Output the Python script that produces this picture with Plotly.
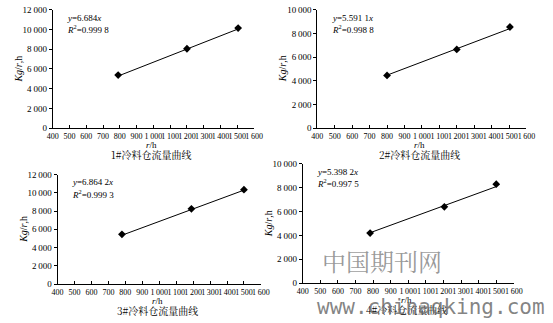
import plotly.graph_objects as go

W, H = 553, 323

# Measured flow rate (r/h) vs. output (Kg/r.h) for four cold-feed bins
bin1_x = [790, 1200, 1505]
bin1_y = [5380, 8050, 10150]
bin2_x = [800, 1200, 1505]
bin2_y = [4450, 6650, 8550]
bin3_x = [780, 1190, 1500]
bin3_y = [5450, 8250, 10350]
bin4_x = [783, 1205, 1500]
bin4_y = [4200, 6400, 8300]

slopes = [6.684, 5.5911, 6.8642, 5.3982]
eq_labels = ["<i>y</i>=6.684<i>x</i>", "<i>y</i>=5.591 1<i>x</i>",
             "<i>y</i>=6.864 2<i>x</i>", "<i>y</i>=5.398 2<i>x</i>"]
r2_labels = ["<i>R</i><sup>2</sup>=0.999 8", "<i>R</i><sup>2</sup>=0.998 8",
             "<i>R</i><sup>2</sup>=0.999 3", "<i>R</i><sup>2</sup>=0.997 5"]
captions = ["1#冷料仓流量曲线", "2#冷料仓流量曲线", "3#冷料仓流量曲线", "4#冷料仓流量曲线"]

x_ticks = list(range(400, 1700, 100))
y_ticks_12 = list(range(0, 14000, 2000))
y_ticks_10 = list(range(0, 12000, 2000))


def fmt(v):
    return f"{v:,}".replace(",", "\u2009")


x_ticktext = [fmt(v) for v in x_ticks]

# pixel boxes of each plot area: left, right, top, bottom
boxes = [(48, 255, 5, 127), (320, 535, 5, 127), (53, 262, 175, 288), (305, 522, 164, 287)]
y_tops = [12000, 10000, 12000, 10000]
series = [(bin1_x, bin1_y), (bin2_x, bin2_y), (bin3_x, bin3_y), (bin4_x, bin4_y)]

FONT = "Liberation Serif, Times New Roman, serif"
CJK = "Noto Serif CJK SC, Noto Sans CJK SC, serif"


def label(px, py, text, size, family=FONT, color="black", xanchor="center", angle=0):
    return dict(x=px / W, y=1 - py / H, xref="paper", yref="paper", text=text,
                showarrow=False, xanchor=xanchor, yanchor="middle", textangle=angle,
                font=dict(size=size, family=family, color=color))


fig = go.Figure()
annotations = []
for i, ((xs, ys), k, box, yt) in enumerate(zip(series, slopes, boxes, y_tops)):
    n = i + 1
    xa = "x" if n == 1 else f"x{n}"
    ya = "y" if n == 1 else f"y{n}"
    # fitted line through the origin
    fx = [xs[0], xs[-1]]
    fy = [k * v for v in fx]
    fig.add_trace(go.Scatter(x=fx, y=fy, mode="lines", line=dict(color="black", width=1),
                             xaxis=xa, yaxis=ya, showlegend=False, hoverinfo="skip"))
    fig.add_trace(go.Scatter(x=xs, y=ys, mode="markers",
                             marker=dict(symbol="diamond", color="black", size=6),
                             xaxis=xa, yaxis=ya, showlegend=False))
    l, r, t, b = box
    yticks = y_ticks_12 if yt == 12000 else y_ticks_10
    fig.layout[f"xaxis{'' if n == 1 else n}"] = dict(
        domain=[l / W, r / W], range=[400, 1600], anchor=ya,
        tickvals=x_ticks, ticktext=x_ticktext, ticks="inside", ticklen=3, tickangle=0,
        tickcolor="black", showline=True, linecolor="black", linewidth=1,
        showgrid=False, zeroline=False, tickfont=dict(size=8, family=FONT, color="black"),
    )
    fig.layout[f"yaxis{'' if n == 1 else n}"] = dict(
        domain=[1 - b / H, 1 - t / H], range=[0, yt], anchor=xa,
        tickvals=yticks, ticktext=[fmt(v) for v in yticks], ticks="outside", ticklen=3,
        tickcolor="black", showline=True, linecolor="black", linewidth=1,
        showgrid=False, zeroline=False, tickfont=dict(size=9, family=FONT, color="black"),
    )
    cx = (l + r) / 2
    # equation and R^2
    annotations.append(label(l + 13, t + 8, eq_labels[i], 9, xanchor="left"))
    annotations.append(label(l + 13, t + 20, r2_labels[i], 9, xanchor="left"))
    # axis titles
    annotations.append(label(cx - 2, b + 17, "<i>r</i>/h", 9))
    annotations.append(label(l - 35, (t + b) / 2, "<i>Kg</i>/<i>r</i>,h", 10, angle=-90))
    # caption
    annotations.append(label(cx - 2, b + 27, captions[i], 10, family=CJK))

# site watermark
annotations.append(label(386, 264, "中国期刊网", 24, family=CJK,
                         color="rgba(120,120,120,0.75)"))
annotations.append(label(437, 312, "www.chinaqking.com", 21,
                         family="DejaVu Sans Mono, monospace",
                         color="rgba(110,110,110,0.85)"))

fig.update_layout(width=W, height=H, margin=dict(l=0, r=0, t=0, b=0),
                  paper_bgcolor="white", plot_bgcolor="white",
                  annotations=annotations)

fig.write_html("out.html")
